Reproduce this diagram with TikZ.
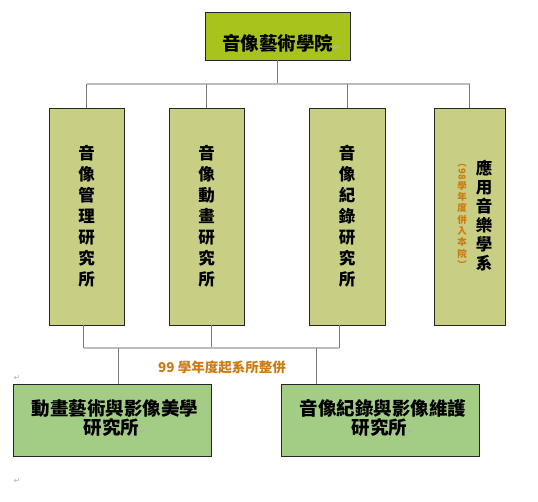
\documentclass[tikz,border=0pt]{standalone}
\usepackage{fontspec}
\usepackage{graphicx}
\setmainfont{Noto Sans CJK TC}
\newfontfamily\symfont{DejaVu Sans}
\definecolor{topfill}{HTML}{A8C41C}
\definecolor{midfill}{HTML}{C8CE84}
\definecolor{botfill}{HTML}{A3CD84}
\definecolor{orangetxt}{HTML}{CC7A12}
\definecolor{busgray}{HTML}{BDBDBD}
\definecolor{dropgray}{HTML}{7A7A7A}
\newcommand\pmark{{\symfont\fontsize{8}{8}\selectfont\textcolor{gray!60}{↵}}}
\tikzset{
  box/.style={draw=black!85, line width=0.9pt, inner sep=0pt, align=center},
  vbox/.style={box, fill=midfill, minimum height=217pt},
  hbox/.style={box, fill=botfill, minimum width=198pt, minimum height=72pt},
  vtxt/.style={font=\bfseries\fontsize{16.5}{21}\selectfont, align=center},
  htxt/.style={font=\bfseries\fontsize{18.5}{17.5}\selectfont, align=center},
  bus/.style={busgray, line width=1.6pt},
  drop/.style={dropgray, line width=0.8pt},
}
\begin{document}
\begin{tikzpicture}[x=1pt,y=-1pt]
\useasboundingbox (0,0) rectangle (538,501);
% top
\node[box, fill=topfill, minimum width=145pt, minimum height=48pt] (top) at (277.5,36) {};
\node[htxt] (toptxt) at (281,43) {音像藝術學院\pmark};
% middle boxes
\node[vbox, minimum width=75pt] (b1) at (86.5,216.5) {};
\node[vtxt] (b1txt) at (86.5,216.5) {音\\像\\管\\理\\研\\究\\所};
\node[vbox, minimum width=75pt] (b2) at (206.5,216.5) {};
\node[vtxt] (b2txt) at (206.5,216.5) {音\\像\\動\\畫\\研\\究\\所};
\node[vbox, minimum width=76pt] (b3) at (347,216.5) {};
\node[vtxt] (b3txt) at (347,216.5) {音\\像\\紀\\錄\\研\\究\\所};
\node[vbox, minimum width=71pt] (b4) at (469.5,216.5) {};
\node[font=\bfseries\fontsize{16.5}{19}\selectfont, align=center] (b4txt) at (484,216) {應\\用\\音\\樂\\學\\系};
\node[font=\bfseries\fontsize{9.5}{11.3}\selectfont, text=orangetxt, align=center] (b4note) at (462,216.5)
  {︵\\\rotatebox[origin=c]{-90}{98}\\學\\年\\度\\併\\入\\本\\院\\︶};
% bottom boxes
\node[hbox] (ba) at (112,420) {};
\node[htxt] (batxt) at (115,418) {動畫藝術與影像美學\\研究所\pmark};
\node[hbox] (bb) at (380,420) {};
\node[htxt] (bbtxt) at (383,418) {音像紀錄與影像維護\\研究所\pmark};
% merge label
\node[font=\bfseries\fontsize{13.5}{14}\selectfont, text=orangetxt] (merge) at (222,367) {99 學年度起系所整併};
% paragraph marks
\node (pm1) at (17,378) {\pmark};
\node (pm2) at (17,481) {\pmark};
% top connectors
\coordinate (bus1) at (277.5,84);
\draw[drop] (top.south) -- (bus1);
\draw[bus] (b1.north |- bus1) -- (b4.north |- bus1);
\foreach \b in {b1,b2,b3,b4} \draw[drop] (\b.north |- bus1) -- (\b.north);
% bottom connectors
\coordinate (bus2) at (0,348);
\draw[drop] ([xshift=-3pt]b1.south) -- ([xshift=-3pt]b1.south |- bus2);
\draw[drop] ([xshift=5pt]b2.south) -- ([xshift=5pt]b2.south |- bus2);
\draw[drop] ([xshift=-8pt]b3.south) -- ([xshift=-8pt]b3.south |- bus2);
\draw[bus] ([xshift=-3pt]b1.south |- bus2) -- ([xshift=-8pt]b3.south |- bus2);
\draw[drop] ([xshift=6pt]ba.north |- bus2) -- ([xshift=6pt]ba.north);
\draw[drop] ([xshift=-64pt]bb.north |- bus2) -- ([xshift=-64pt]bb.north);
\end{tikzpicture}
\end{document}
